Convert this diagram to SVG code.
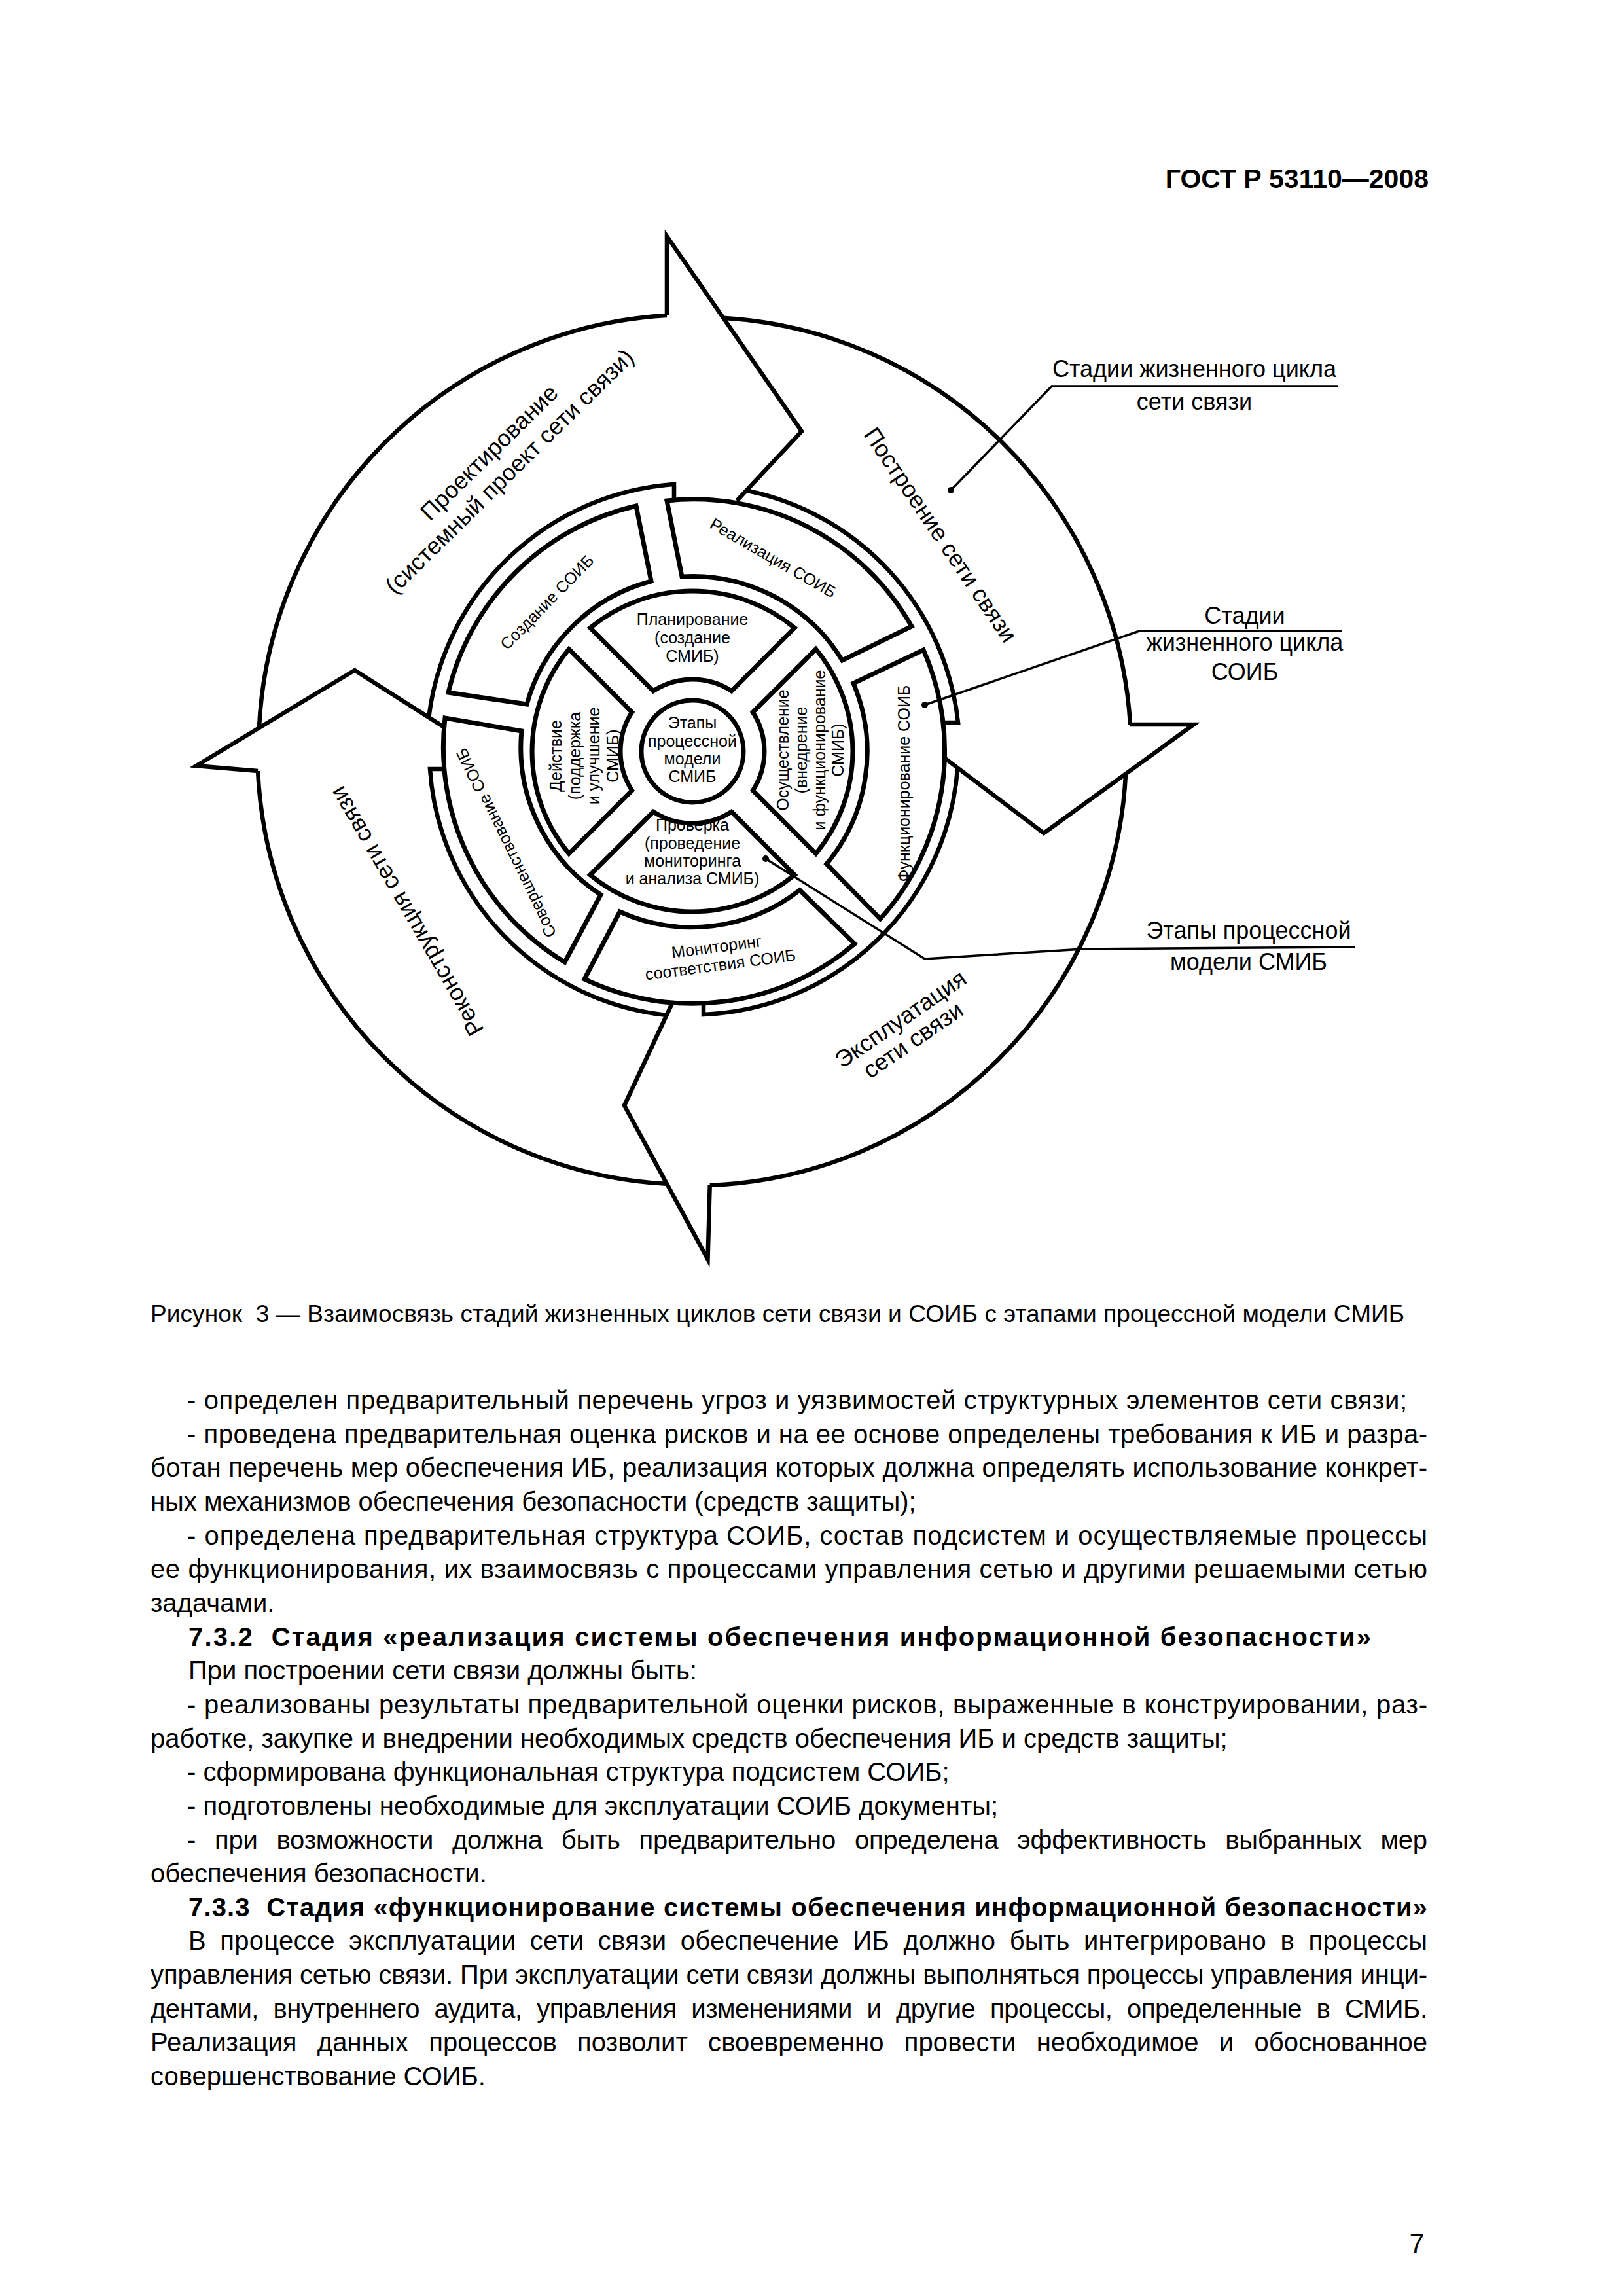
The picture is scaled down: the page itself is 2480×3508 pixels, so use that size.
<svg xmlns="http://www.w3.org/2000/svg" width="2480" height="3508" viewBox="0 0 2480 3508">
<defs>
<style>
.seg{fill:#fff;stroke:#000;stroke-width:7;stroke-linejoin:miter;stroke-miterlimit:10}
.ln{fill:none;stroke:#000;stroke-width:6.5;stroke-linejoin:miter;stroke-miterlimit:10}
.lead{fill:none;stroke:#000;stroke-width:3.5}
.dot{fill:#000}
text{font-family:"Liberation Sans",Arial,sans-serif;fill:#000}
.s{font-size:25px;text-anchor:middle}
.m{font-size:36px;text-anchor:middle}
.b{font-size:40px}
.bb{font-size:40px;font-weight:bold}
.hd{font-size:41px;font-weight:bold;text-anchor:end}
.cap{font-size:37px}
</style>
</defs>
<rect width="2480" height="3508" fill="#fff"/>

<g id="header"><text class="hd" x="2183" y="287">ГОСТ Р 53110—2008</text></g>

<g id="diagram">
<g id="net-proektirovanie">
<path class="ln" d="M395.9,1112.1 A663,663 0 0 1 1019,482"/>
<path class="ln" d="M1019,482 L1019,361 L1225,659 L1126,765"/>
<path class="ln" d="M655.2,1096.1 A406,406 0 0 1 1030,740 L1030,764"/>
<text class="m" transform="translate(756,700) rotate(-44.5)">Проектирование</text>
<text class="m" transform="translate(787,729) rotate(-44.5)">(системный проект сети связи)</text>
</g>
<g id="net-postroenie">
<path class="ln" d="M1105.2,485.7 A663,663 0 0 1 1727,1107"/>
<path class="ln" d="M1727,1107 L1824,1107 L1595,1273 L1444.5,1159"/>
<path class="ln" d="M1140.5,749.5 A406,406 0 0 1 1464,1104 L1442,1104"/>
<text class="m" transform="translate(1427,824) rotate(56)">Построение сети связи</text>
</g>
<g id="net-ekspluatacia">
<path class="ln" d="M1720.1,1182.3 A663,663 0 0 1 1084.7,1811"/>
<path class="ln" d="M1084.7,1811 L1081.5,1924 L954,1689 L1027,1533"/>
<path class="ln" d="M1463.2,1173.1 A406,406 0 0 1 1075,1550 L1075,1528"/>
<text class="m" transform="translate(1383,1567) rotate(-34.6)">Эксплуатация</text>
<text class="m" transform="translate(1402,1599) rotate(-34.6)">сети связи</text>
</g>
<g id="net-rekonstrukcia">
<path class="ln" d="M1019,1808.9 A663,663 0 0 1 394,1178"/>
<path class="ln" d="M394,1178 L300,1170 L542,1024 L677,1110"/>
<path class="ln" d="M1018.5,1551.1 A406,406 0 0 1 657,1175 L677,1175"/>
<text class="m" transform="translate(632,1386) rotate(-120)">Реконструкция сети связи</text>
</g>

<g id="soib-sozdanie">
<path class="seg" d="M685,1058 A383,383 0 0 1 972,773 L995,888 A268,268 0 0 0 805,1076 Z"/>
<text class="s" transform="translate(842,926) rotate(-45.5)">Создание СОИБ</text>
</g>
<g id="soib-realizacia">
<path class="seg" d="M1019,765 A383,383 0 0 1 1393,957 L1287,1009 A268,268 0 0 0 1042,881 Z"/>
<text class="s" transform="translate(1177,860) rotate(30)">Реализация СОИБ</text>
</g>
<g id="soib-funkcionirovanie">
<path class="seg" d="M1411,993 A383,383 0 0 1 1345,1404 L1263,1320 A268,268 0 0 0 1304,1044 Z"/>
<text class="s" transform="translate(1390,1197) rotate(-90)">Функционирование СОИБ</text>
</g>
<g id="soib-monitoring">
<path class="seg" d="M1306,1442 A383,383 0 0 1 893,1496 L947,1393 A268,268 0 0 0 1222,1360 Z"/>
<text class="s" transform="translate(1096,1455) rotate(-7.5)">Мониторинг</text>
<text class="s" transform="translate(1102,1482.5) rotate(-7.5)">соответствия СОИБ</text>
</g>
<g id="soib-sovershenstvovanie">
<path class="seg" d="M863,1470 A383,383 0 0 1 680,1097 L797,1117 A268,268 0 0 0 918,1367 Z"/>
<text class="s" transform="translate(781,1284) rotate(-116)">Совершенствование СОИБ</text>
</g>

<g id="pdca-planirovanie">
<path class="seg" d="M901.8,959.3 A245,245 0 0 1 1214.2,959.3 L1117.8,1055.7 A110,110 0 0 0 998.2,1055.7 Z"/>
<text class="s" x="1058" y="955">Планирование</text>
<text class="s" x="1058" y="983">(создание</text>
<text class="s" x="1058" y="1011">СМИБ)</text>
</g>
<g id="pdca-osushchestvlenie">
<path class="seg" d="M1246.7,991.8 A245,245 0 0 1 1246.7,1304.2 L1150.3,1207.8 A110,110 0 0 0 1150.3,1088.2 Z"/>
<text class="s" transform="translate(1205,1146) rotate(-90)">Осуществление</text>
<text class="s" transform="translate(1233,1146) rotate(-90)">(внедрение</text>
<text class="s" transform="translate(1261,1146) rotate(-90)">и функционирование</text>
<text class="s" transform="translate(1289,1146) rotate(-90)">СМИБ)</text>
</g>
<g id="pdca-proverka">
<path class="seg" d="M1214.2,1336.7 A245,245 0 0 1 901.8,1336.7 L998.2,1240.3 A110,110 0 0 0 1117.8,1240.3 Z"/>
<text class="s" x="1058" y="1269">Проверка</text>
<text class="s" x="1058" y="1297">(проведение</text>
<text class="s" x="1058" y="1324">мониторинга</text>
<text class="s" x="1058" y="1351">и анализа СМИБ)</text>
</g>
<g id="pdca-deistvie">
<path class="seg" d="M869.3,1304.2 A245,245 0 0 1 869.3,991.8 L965.7,1088.2 A110,110 0 0 0 965.7,1207.8 Z"/>
<text class="s" transform="translate(858,1155) rotate(-90)">Действие</text>
<text class="s" transform="translate(887,1155) rotate(-90)">(поддержка</text>
<text class="s" transform="translate(916,1155) rotate(-90)">и улучшение</text>
<text class="s" transform="translate(945,1155) rotate(-90)">СМИБ)</text>
</g>
<g id="center">
<circle class="seg" cx="1058" cy="1148" r="78"/>
<text class="s" x="1058" y="1113">Этапы</text>
<text class="s" x="1058" y="1141">процессной</text>
<text class="s" x="1058" y="1168">модели</text>
<text class="s" x="1058" y="1195">СМИБ</text>
</g>

<g id="legend-network">
<text class="m" x="1825" y="576">Стадии жизненного цикла</text>
<text class="m" x="1825" y="626">сети связи</text>
</g>
<g id="legend-soib">
<text class="m" x="1902" y="953">Стадии</text>
<text class="m" x="1902" y="994">жизненного цикла</text>
<text class="m" x="1902" y="1039">СОИБ</text>
</g>
<g id="legend-smib">
<text class="m" x="1908" y="1434">Этапы процессной</text>
<text class="m" x="1908" y="1482">модели СМИБ</text>
</g>

<g id="connectors">
<path class="lead" d="M2044,590 L1607,590 L1453,749"/>
<circle class="dot" cx="1453" cy="749" r="5"/>
<path class="lead" d="M2051,964 L1741,964 L1413,1077"/>
<circle class="dot" cx="1413" cy="1077" r="5"/>
<path class="lead" d="M1170,1312 L1413,1465 L1655,1450 L2070,1447"/>
<circle class="dot" cx="1170" cy="1312" r="5"/>
</g>
</g>

<g id="caption"><text class="cap" x="230" y="2020" textLength="1916" lengthAdjust="spacing">Рисунок&#160; 3 — Взаимосвязь стадий жизненных циклов сети связи и СОИБ с этапами процессной модели СМИБ</text></g>

<g id="body-text">
<text class="b" x="286" y="2153" textLength="1864" lengthAdjust="spacing">- определен предварительный перечень угроз и уязвимостей структурных элементов сети связи;</text>
<text class="b" x="286" y="2204.7" textLength="1895" lengthAdjust="spacing">- проведена предварительная оценка рисков и на ее основе определены требования к ИБ и разра-</text>
<text class="b" x="230" y="2256.3" textLength="1951" lengthAdjust="spacing">ботан перечень мер обеспечения ИБ, реализация которых должна определять использование конкрет-</text>
<text class="b" x="230" y="2308">ных механизмов обеспечения безопасности (средств защиты);</text>
<text class="b" x="286" y="2359.6" textLength="1895" lengthAdjust="spacing">- определена предварительная структура СОИБ, состав подсистем и осуществляемые процессы</text>
<text class="b" x="230" y="2411.3" textLength="1951" lengthAdjust="spacing">ее функционирования, их взаимосвязь с процессами управления сетью и другими решаемыми сетью</text>
<text class="b" x="230" y="2462.9">задачами.</text>
<text class="bb" x="288" y="2514.6" textLength="1807" lengthAdjust="spacing">7.3.2&#160; Стадия «реализация системы обеспечения информационной безопасности»</text>
<text class="b" x="288" y="2566.2">При построении сети связи должны быть:</text>
<text class="b" x="286" y="2617.9" textLength="1895" lengthAdjust="spacing">- реализованы результаты предварительной оценки рисков, выраженные в конструировании, раз-</text>
<text class="b" x="230" y="2669.5">работке, закупке и внедрении необходимых средств обеспечения ИБ и средств защиты;</text>
<text class="b" x="286" y="2721.2">- сформирована функциональная структура подсистем СОИБ;</text>
<text class="b" x="286" y="2772.8">- подготовлены необходимые для эксплуатации СОИБ документы;</text>
<text class="b" x="286" y="2824.5" word-spacing="18" textLength="1895" lengthAdjust="spacing">- при возможности должна быть предварительно определена эффективность выбранных мер</text>
<text class="b" x="230" y="2876.1">обеспечения безопасности.</text>
<text class="bb" x="288" y="2927.8" textLength="1893" lengthAdjust="spacing">7.3.3&#160; Стадия «функционирование системы обеспечения информационной безопасности»</text>
<text class="b" x="288" y="2979.4" word-spacing="10" textLength="1893" lengthAdjust="spacing">В процессе эксплуатации сети связи обеспечение ИБ должно быть интегрировано в процессы</text>
<text class="b" x="230" y="3031.1" textLength="1951" lengthAdjust="spacing">управления сетью связи. При эксплуатации сети связи должны выполняться процессы управления инци-</text>
<text class="b" x="230" y="3082.7" word-spacing="12" textLength="1951" lengthAdjust="spacing">дентами, внутреннего аудита, управления изменениями и другие процессы, определенные в СМИБ.</text>
<text class="b" x="230" y="3134.4" word-spacing="20" textLength="1951" lengthAdjust="spacing">Реализация данных процессов позволит своевременно провести необходимое и обоснованное</text>
<text class="b" x="230" y="3186">совершенствование СОИБ.</text>
</g>

<g id="page-number"><text class="b" x="2176" y="3442" text-anchor="end">7</text></g>
</svg>
